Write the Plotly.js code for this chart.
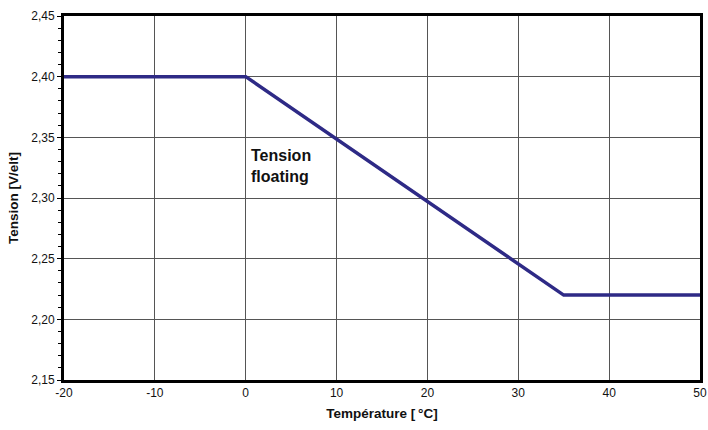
<!DOCTYPE html>
<html><head><meta charset="utf-8">
<script src="https://cdn.plot.ly/plotly-3.0.1.min.js"></script>
<style>html,body{margin:0;padding:0;background:#fff}#chart{width:708px;height:430px}</style>
</head><body><div id="chart"></div>
<script>
const temperatures = [-20, 0, 35, 50];
const voltages = [2.40, 2.40, 2.22, 2.22];
const xTickVals = [-20, -10, 0, 10, 20, 30, 40, 50];
const xTickText = ["-20", "-10", "0", "10", "20", "30", "40", "50"];
const yTickVals = [2.15, 2.20, 2.25, 2.30, 2.35, 2.40, 2.45];
const yTickText = ["2,15", "2,20", "2,25", "2,30", "2,35", "2,40", "2,45"];
const labelLines = ["Tension", "floating"];

const font = "'Liberation Sans', Arial, Helvetica, sans-serif";
const data = [{
  x: temperatures, y: voltages, type: 'scatter', mode: 'lines',
  line: {color: '#2e2a86', width: 3.5}, hoverinfo: 'skip', showlegend: false
}];
const layout = {
  width: 708, height: 430,
  margin: {l: 64, r: 8, t: 16, b: 50},
  paper_bgcolor: '#fff', plot_bgcolor: '#fff',
  font: {family: font, size: 12, color: '#111'},
  xaxis: {
    range: [-20, 50], tickvals: xTickVals, ticktext: xTickText,
    showgrid: true, gridcolor: '#555', gridwidth: 1,
    showline: true, linecolor: '#000', linewidth: 3, mirror: true,
    ticks: '', zeroline: false, tickfont: {size: 12, color: '#111'},
    title: {text: 'Température [\u2009°C]', font: {size: 13.5, color: '#111', family: font, weight: 'bold'}, standoff: 10}
  },
  yaxis: {
    range: [2.15, 2.45], tickvals: yTickVals, ticktext: yTickText,
    showgrid: true, gridcolor: '#555', gridwidth: 1,
    showline: true, linecolor: '#000', linewidth: 3, mirror: true,
    ticks: 'outside', ticklen: 4, tickcolor: '#000', tickwidth: 1,
    minor: {dtick: 0.01, tick0: 2.15, ticks: 'outside', ticklen: 3, tickcolor: '#000', tickwidth: 1, showgrid: false},
    zeroline: false, tickfont: {size: 12, color: '#111'},
    title: {text: 'Tension [V/elt]', font: {size: 13.5, color: '#111', family: font, weight: 'bold'}, standoff: 10}
  },
  annotations: [{
    x: 0.5, y: 2.3262, xref: 'x', yref: 'y', xanchor: 'left', yanchor: 'middle',
    text: labelLines.join('<br>'), showarrow: false, align: 'left', borderpad: 0,
    font: {size: 16, color: '#111', family: font, weight: 'bold'}
  }]
};
Plotly.newPlot('chart', data, layout, {displayModeBar: false, staticPlot: true});
</script></body></html>
